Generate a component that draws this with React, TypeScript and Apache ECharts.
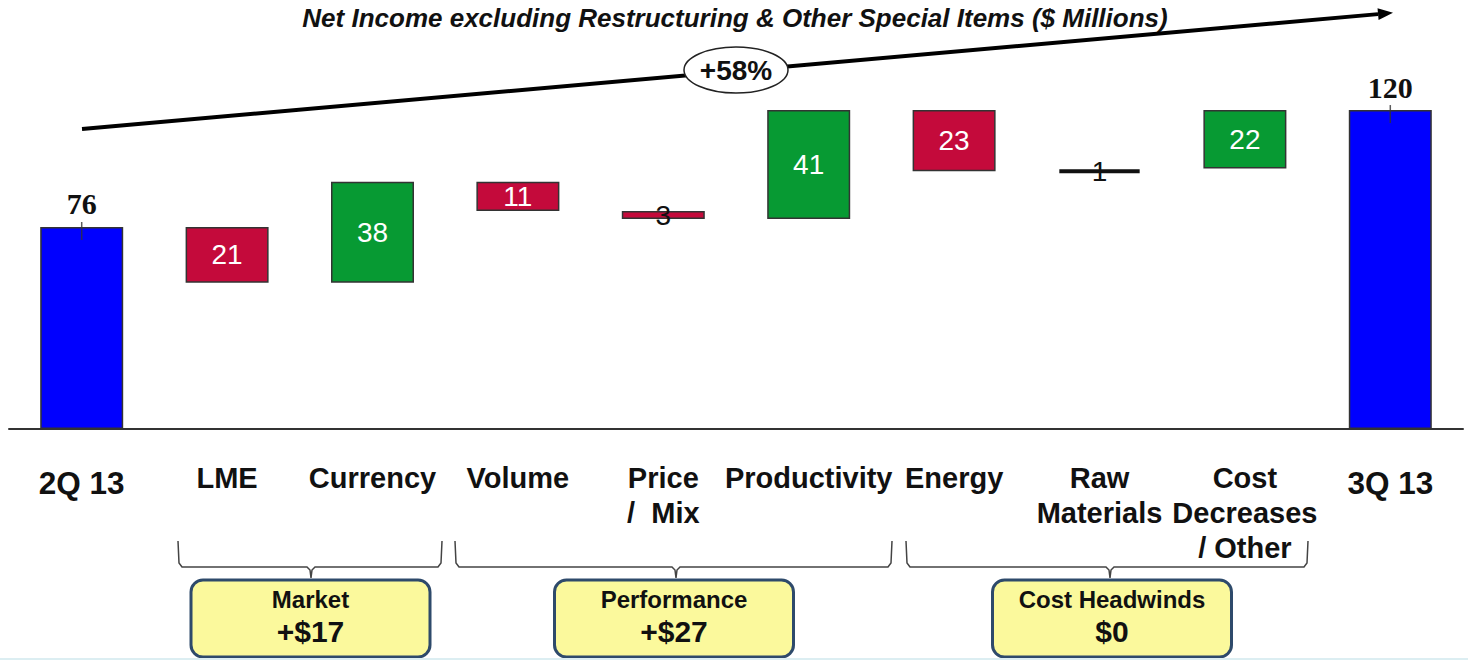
import { useEffect, useRef } from 'react';
import * as echarts from 'echarts';

const categories = ['2Q 13', 'LME', 'Currency', 'Volume', 'Price\n/  Mix', 'Productivity', 'Energy', 'Raw\nMaterials', 'Cost\nDecreases\n/ Other', '3Q 13'];
const shownValues = [76, 21, 38, 11, 3, 41, 23, 1, 22, 120];
const barBases = [0, 55, 55, 82, 79, 79, 97, 96.5, 98, 0];
const barKinds = ['total', 'down', 'up', 'down', 'down', 'up', 'down', 'flat', 'up', 'total'];
const endTicks = [76, null, null, null, null, null, null, null, null, 120];
const groupNames = ['Market', 'Performance', 'Cost Headwinds'];
const groupValues = ['+$17', '+$27', '$0'];
const changeLabel = '+58%';
const titleText = 'Net Income excluding Restructuring & Other Special Items ($ Millions)';

const COLORS: Record<string, string> = { total: '#0000FF', up: '#079A33', down: '#C40A3B', flat: '#111111' };
const SANS = 'Liberation Sans, Arial, sans-serif';
const SERIF = 'Liberation Serif, Times New Roman, serif';

function brace(x1: number, x2: number, xm: number) {
  const yt = 541, yh = 567, yb = 578;
  return {
    type: 'polyline',
    shape: {
      points: [
        [x1, yt], [x1 + 1, yh - 4], [x1 + 4, yh], [xm - 4, yh], [xm - 1, yh + 3], [xm, yb],
        [xm + 1, yh + 3], [xm + 4, yh], [x2 - 4, yh], [x2 - 1, yh - 4], [x2, yt],
      ],
    },
    style: { stroke: '#444', lineWidth: 1.5, fill: null },
  };
}

function box(cx: number, name: string, val: string) {
  const w = 239, h = 77, y = 580;
  return [
    {
      type: 'rect',
      shape: { x: cx - w / 2, y, width: w, height: h, r: 12 },
      style: { fill: '#FBF99C', stroke: '#2E4A6B', lineWidth: 3 },
    },
    {
      type: 'text', x: cx, y: 599,
      style: { text: name, fill: '#111', font: `bold 24px ${SANS}`, textAlign: 'center', textVerticalAlign: 'middle' },
    },
    {
      type: 'text', x: cx, y: 631,
      style: { text: val, fill: '#111', font: `bold 30px ${SANS}`, textAlign: 'center', textVerticalAlign: 'middle' },
    },
  ];
}

export default function App() {
  const ref = useRef<HTMLDivElement>(null);
  useEffect(() => {
    if (!ref.current) return;
    const chart = echarts.init(ref.current, undefined, { renderer: 'svg' });

    // trend arrow geometry
    const sx = 82, sy = 129, tx = 1393, ty = 12.8;
    const dx = tx - sx, dy = ty - sy, len = Math.hypot(dx, dy);
    const ux = dx / len, uy = dy / len, nx = -uy, ny = ux;
    const bx = tx - 15 * ux, by = ty - 15 * uy;

    const valueData = shownValues.map((v, i) => {
      const k = barKinds[i];
      const isEnd = k === 'total';
      return {
        value: v,
        itemStyle: { color: COLORS[k], borderColor: k === 'flat' ? '#111' : '#333', borderWidth: k === 'flat' ? 4 : 1.5 },
        label: isEnd
          ? { show: true, position: 'top', distance: 8, color: '#111', fontFamily: SERIF, fontWeight: 'bold', fontSize: 30 }
          : { show: true, position: 'inside', color: v <= 3 ? '#111' : '#fff', fontFamily: SANS, fontSize: 28 },
      };
    });

    chart.setOption({
      animation: false,
      backgroundColor: '#fff',
      grid: { left: 9, width: 1454, top: 30.3, height: 398.7 },
      xAxis: {
        type: 'category',
        data: categories,
        axisLine: { show: true, lineStyle: { color: '#333', width: 2 } },
        axisTick: { show: false },
        axisLabel: {
          interval: 0,
          margin: 31,
          formatter: (v: string, i: number) =>
            v.split('\n').map((s) => `{${i === 0 || i === categories.length - 1 ? 'e' : 'n'}|${s}}`).join('\n'),
          rich: {
            n: { fontSize: 29, lineHeight: 35, fontWeight: 'bold', fontFamily: SANS, color: '#111' },
            e: { fontSize: 31.5, lineHeight: 46, fontWeight: 'bold', fontFamily: SANS, color: '#111' },
          },
        },
      },
      yAxis: { type: 'value', min: 0, max: 150, show: false, splitLine: { show: false } },
      series: [
        {
          type: 'bar', stack: 'w', barWidth: 83, silent: true,
          itemStyle: { color: 'transparent' }, data: barBases,
        },
        { type: 'bar', stack: 'w', barWidth: 83, data: valueData },
        {
          type: 'scatter', data: endTicks, symbol: 'rect', symbolSize: [1.5, 18], symbolOffset: [0, 4],
          itemStyle: { color: '#333' }, z: 5,
        },
      ],
      graphic: [
        {
          type: 'text', x: 735, y: 18,
          style: { text: titleText, fill: '#111', font: `italic bold 26px ${SANS}`, textAlign: 'center', textVerticalAlign: 'middle' },
        },
        { type: 'line', shape: { x1: sx, y1: sy, x2: bx, y2: by }, style: { stroke: '#000', lineWidth: 4 } },
        {
          type: 'polygon',
          shape: { points: [[tx, ty], [bx + 6 * nx, by + 6 * ny], [bx - 6 * nx, by - 6 * ny]] },
          style: { fill: '#000' },
        },
        { type: 'ellipse', shape: { cx: 736, cy: 70, rx: 52, ry: 23 }, style: { fill: '#fff', stroke: '#222', lineWidth: 1.5 } },
        {
          type: 'text', x: 736, y: 70,
          style: { text: changeLabel, fill: '#111', font: `bold 28px ${SANS}`, textAlign: 'center', textVerticalAlign: 'middle' },
        },
        brace(178, 442, 311),
        brace(455, 892, 676),
        brace(906, 1308, 1110),
        ...box(310.5, groupNames[0], groupValues[0]),
        ...box(674, groupNames[1], groupValues[1]),
        ...box(1112, groupNames[2], groupValues[2]),
        { type: 'rect', shape: { x: 0, y: 658, width: 1468, height: 2 }, style: { fill: '#DCEEF2' } },
      ],
    });
    return () => chart.dispose();
  }, []);
  return <div ref={ref} style={{ position: 'absolute', left: 0, top: 0, width: 1468, height: 660 }} />;
}
